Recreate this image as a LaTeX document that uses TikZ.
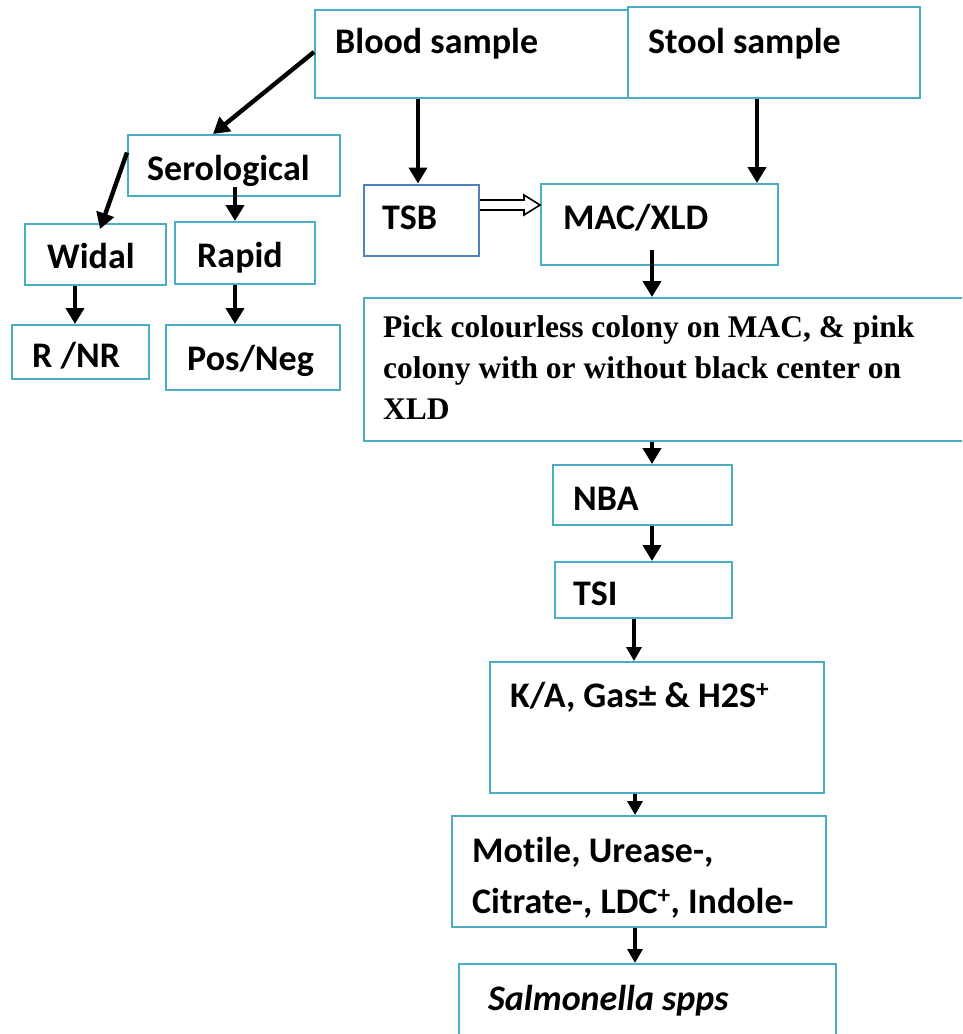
\documentclass[tikz,border=0pt]{standalone}
\usepackage{fontspec}
\setmainfont{Carlito}[Ligatures=NoCommon]
\newfontfamily\tnrfont{Liberation Serif}
\usetikzlibrary{arrows.meta}
\definecolor{boxc}{RGB}{75,172,198}
\definecolor{tsbc}{RGB}{79,129,189}
\begin{document}
\begin{tikzpicture}[x=1pt,y=-1pt,
  box/.style={draw=boxc,line width=2pt,rectangle,inner sep=0pt},
  lbl/.style={anchor=base west,inner sep=0pt,font=\fontsize{36}{43}\selectfont\bfseries},
  arr/.style={line width=4.4pt,-{Triangle[width=18pt,length=16pt]}},
  arrs/.style={line width=3.4pt,-{Triangle[width=15pt,length=14pt]}}]
\clip (0,0) rectangle (962,1034);
\fill[white] (0,0) rectangle (962,1034);
% boxes
\node[box,minimum width=313pt,minimum height=88pt] (blood) at (471.5,54) {};
\node[box,minimum width=292pt,minimum height=91pt] (stool) at (774,52.5) {};
\node[box,minimum width=212pt,minimum height=61pt] (sero) at (234,165.5) {};
\node[box,minimum width=141pt,minimum height=61pt] (widal) at (95.5,254.5) {};
\node[box,minimum width=140pt,minimum height=62pt] (rapid) at (245,253) {};
\node[box,minimum width=137pt,minimum height=54pt] (rnr) at (80.5,352) {};
\node[box,minimum width=174pt,minimum height=65pt] (posneg) at (253,357.5) {};
\node[box,draw=tsbc,minimum width=115pt,minimum height=71pt] (tsb) at (421.5,220) {};
\node[box,minimum width=237pt,minimum height=81pt] (mac) at (659.5,224.5) {};
\node[box,minimum width=610pt,minimum height=143pt] (pick) at (669,369.5) {};
\node[box,minimum width=179pt,minimum height=60pt] (nba) at (642.5,495) {};
\node[box,minimum width=177pt,minimum height=56pt] (tsi) at (643.5,590) {};
\node[box,minimum width=334pt,minimum height=131pt] (ka) at (657,727.5) {};
\node[box,minimum width=374pt,minimum height=111pt] (motile) at (639,871.5) {};
\node[box,minimum width=377pt,minimum height=90pt] (salm) at (647.5,1009) {};
% texts
\node[lbl] (tblood) at (335,53) {Blood sample};
\node[lbl] (tstool) at (648,53) {Stool sample};
\node[lbl] (tsero) at (147,180) {Serological};
\node[lbl] (twidal) at (47,268) {Widal};
\node[lbl] (trapid) at (197,267) {Rapid};
\node[lbl] (trnr) at (32,367) {R /NR};
\node[lbl] (tposneg) at (187,370) {Pos/Neg};
\node[lbl] (ttsb) at (382,229) {TSB};
\node[lbl] (tmac) at (563,229) {MAC/XLD};
\node[anchor=north west,inner sep=0pt,align=left,font=\tnrfont\fontsize{31.5}{41}\selectfont\bfseries] (tpick) at (383,315)
  {Pick colourless colony on MAC, \& pink\\colony with or without black center on\\XLD};
\node[lbl] (tnba) at (573,510) {NBA};
\node[lbl] (ttsi) at (573,605) {TSI};
\node[lbl] (tka) at (510,707) {K/A, Gas± \& H2S\textsuperscript{+}};
\node[lbl] (tmot1) at (472,862) {Motile, Urease-,};
\node[lbl] (tmot2) at (472,913) {Citrate-, LDC\textsuperscript{+}, Indole-};
\node[lbl] (tsalm) at (488,1010) {\itshape Salmonella spps};
% connectors
\coordinate (b1) at ([yshift=2pt]blood.west);
\coordinate (s1) at ([xshift=-21pt]sero.north);
\draw[arr] (b1) -- (s1);
\coordinate (s2) at ([yshift=13pt]sero.west);
\coordinate (w1) at ([xshift=4.5pt,yshift=-6pt]widal.north);
\draw[arr] (s2) -- (w1);
\coordinate (s3) at ([xshift=1pt,yshift=10pt]sero.south);
\draw[arr] (s3) -- (s3 |- rapid.north);
\coordinate (w2) at ([xshift=-20.5pt]widal.south);
\draw[arr] (w2) -- (w2 |- rnr.north);
\coordinate (r2) at ([xshift=-10pt]rapid.south);
\draw[arr] (r2) -- (r2 |- posneg.north);
\coordinate (b2) at ([xshift=-3.5pt]tsb.north);
\draw[arr] (b2 |- blood.south) -- (b2);
\coordinate (st) at ([xshift=-17pt]stool.south);
\draw[arr] (st) -- (st |- mac.north);
\coordinate (m1) at ([xshift=-7.5pt,yshift=16pt]mac.south);
\draw[arr] (m1) -- (m1 |- pick.north);
\coordinate (p1) at ([xshift=-17pt]pick.south);
\draw[arr] (p1) -- (p1 |- nba.north);
\coordinate (n1) at ([xshift=9.5pt]nba.south);
\draw[arr] (n1) -- (n1 |- tsi.north);
\coordinate (t1) at ([xshift=-9.5pt]tsi.south);
\draw[arrs] (t1) -- (t1 |- ka.north);
\coordinate (k1) at ([xshift=-22pt]ka.south);
\draw[arrs] (k1) -- (k1 |- motile.north);
\coordinate (mo1) at ([xshift=-4pt]motile.south);
\draw[arrs] (mo1) -- (mo1 |- salm.north);
% hollow arrow TSB -> MAC/XLD
\coordinate (ta) at ([yshift=15pt]tsb.east);
\coordinate (ma) at ([yshift=19.5pt]mac.west);
\draw[line width=1.6pt,fill=white,line join=miter]
  ([yshift=5pt]ta) -- ([xshift=-16pt,yshift=5pt]ma) -- ([xshift=-16pt,yshift=10pt]ma) -- (ma)
  -- ([xshift=-16pt,yshift=-10pt]ma) -- ([xshift=-16pt,yshift=-5pt]ma) -- ([yshift=-5pt]ta);
\end{tikzpicture}
\end{document}
